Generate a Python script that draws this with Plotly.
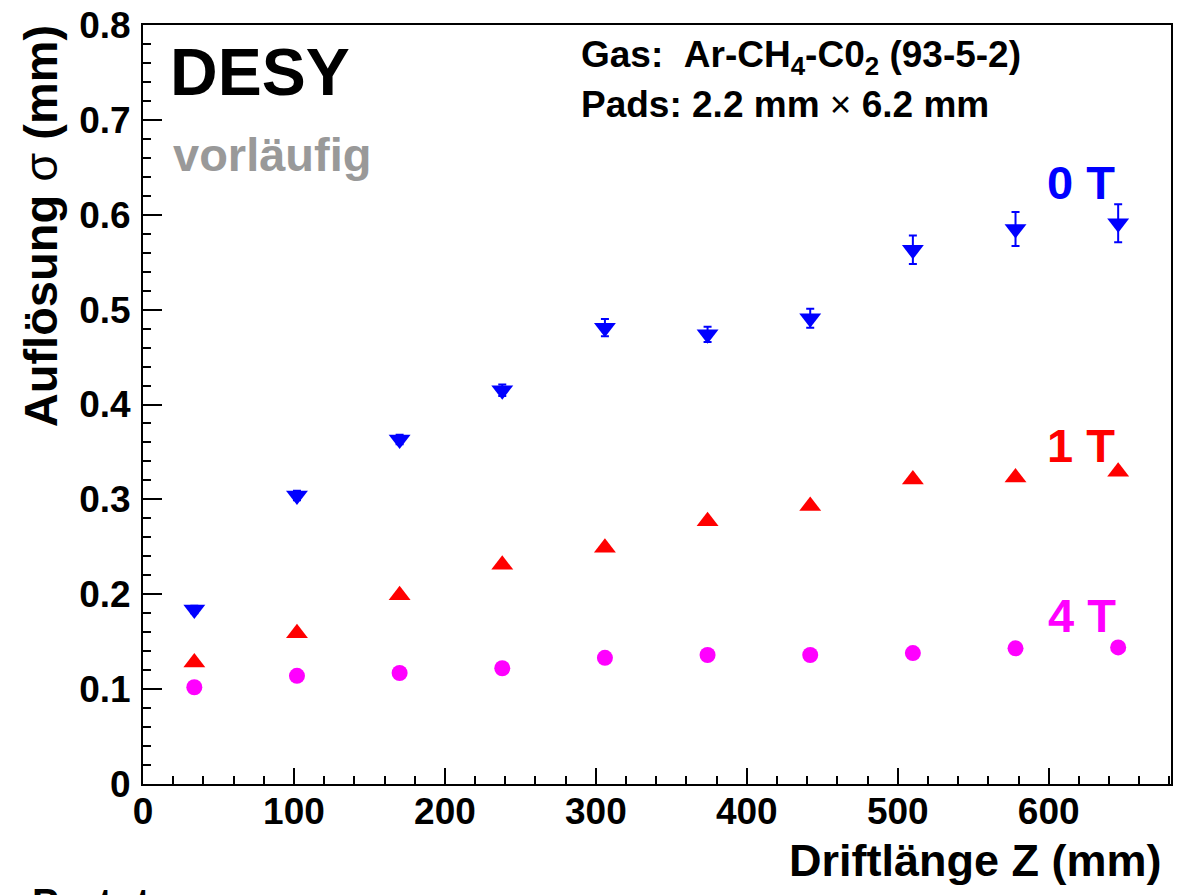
import plotly.graph_objects as go

# ---------------- data ----------------
drift_mm = [34, 102, 170, 238, 306, 374, 442, 510, 578, 646]

sigma_0T = [0.184, 0.304, 0.363, 0.415, 0.481, 0.474, 0.491, 0.563, 0.585, 0.591]
err_0T = [0.004, 0.005, 0.005, 0.006, 0.009, 0.008, 0.010, 0.015, 0.018, 0.020]

sigma_1T = [0.128, 0.159, 0.199, 0.231, 0.249, 0.277, 0.293, 0.321, 0.323, 0.329]
sigma_4T = [0.102, 0.114, 0.117, 0.122, 0.133, 0.136, 0.136, 0.138, 0.143, 0.144]

x_range = [0, 681]
y_range = [0, 0.8]
x_ticks = [0, 100, 200, 300, 400, 500, 600]
y_ticks = [0, 0.1, 0.2, 0.3, 0.4, 0.5, 0.6, 0.7, 0.8]
y_ticktext = ["0", "0.1", "0.2", "0.3", "0.4", "0.5", "0.6", "0.7", "0.8"]

FONT = "Liberation Sans, Arial, Helvetica, sans-serif"
BLUE, RED, MAGENTA = "#0000ff", "#ff0000", "#ff00ff"

fig = go.Figure()

fig.add_trace(go.Scatter(
    x=drift_mm, y=sigma_0T, mode="markers", name="0 T",
    marker=dict(symbol="triangle-down", size=19, color=BLUE),
    error_y=dict(type="data", array=err_0T, visible=True, color=BLUE,
                 thickness=2, width=4),
))
fig.add_trace(go.Scatter(
    x=drift_mm, y=sigma_1T, mode="markers", name="1 T",
    marker=dict(symbol="triangle-up", size=19, color=RED),
))
fig.add_trace(go.Scatter(
    x=drift_mm, y=sigma_4T, mode="markers", name="4 T",
    marker=dict(symbol="circle", size=16, color=MAGENTA),
))

axis_common = dict(
    showgrid=False, zeroline=False,
    showline=True, linecolor="black", linewidth=2, mirror=True,
    ticks="inside", tickcolor="black", tickwidth=2,
    tickfont=dict(family=FONT, size=37, color="black", weight="bold"),
)

fig.update_xaxes(
    range=x_range, tickvals=x_ticks, ticklen=16,
    minor=dict(ticks="inside", ticklen=8, dtick=20, tickcolor="black", tickwidth=2),
    ticklabelstandoff=-6,
    **axis_common,
)
fig.update_yaxes(
    range=y_range, tickvals=y_ticks, ticktext=y_ticktext, ticklen=19,
    minor=dict(ticks="inside", ticklen=8, dtick=0.02, tickcolor="black", tickwidth=2),
    ticklabelstandoff=3,
    **axis_common,
)

def ann(text, x, y, size, color="black", xanchor="left", yanchor="middle",
        xref="paper", yref="paper", angle=0, weight="bold"):
    fig.add_annotation(
        text=text, x=x, y=y, xref=xref, yref=yref, showarrow=False,
        xanchor=xanchor, yanchor=yanchor, textangle=angle,
        font=dict(family=FONT, size=size, color=color, weight=weight),
    )

W, H = 1030.0, 759.0
def px(xp):  # pixel -> paper x
    return (xp - 143) / W
def py(yp):  # pixel -> paper y
    return (784 - yp) / H

THIN = '<span style="font-weight:normal">%s</span>'

ann("DESY", px(168), py(72), 66)
ann("vorläufig", px(171), py(155), 47, color="#999999")
ann("Gas:\u00a0\u00a0Ar-CH<sub>4</sub>-C0<sub>2</sub> (93-5-2)", px(580), py(57), 37)
ann("Pads: 2.2 mm " + THIN % "\u00d7" + " 6.2 mm", px(580), py(104), 37)
ann("0 T", px(1083), py(183), 47, color=BLUE, xanchor="center")
ann("1 T", px(1083), py(445), 47, color=RED, xanchor="center")
ann("4 T", px(1084), py(615), 47, color=MAGENTA, xanchor="center")

ann("Auflösung " + THIN % "\u03c3" + " (mm)", px(40), py(226), 47, xanchor="center", angle=-90)
ann("Driftlänge Z (mm)", px(1166), py(860), 45, xanchor="right")
ann("Prototyp", px(30), py(879), 40, yanchor="top")

fig.update_layout(
    width=1177, height=895,
    margin=dict(l=143, r=4, t=25, b=111),
    paper_bgcolor="white", plot_bgcolor="white",
    showlegend=False,
)

fig.write_html("out.html")
